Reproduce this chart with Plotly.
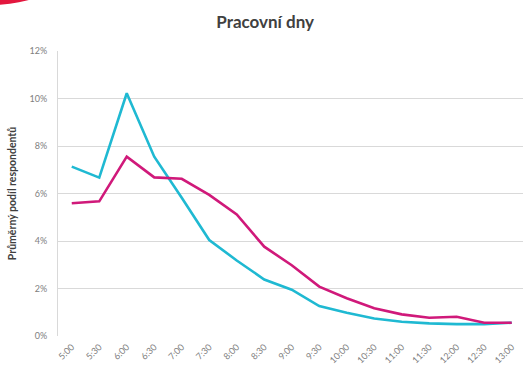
import plotly.graph_objects as go

times = ["5:00", "5:30", "6:00", "6:30", "7:00", "7:30", "8:00", "8:30", "9:00",
         "9:30", "10:00", "10:30", "11:00", "11:30", "12:00", "12:30", "13:00"]
cyan_vals = [7.13, 6.67, 10.22, 7.55, 5.82, 4.04, 3.18, 2.38, 1.95,
             1.26, 0.98, 0.74, 0.60, 0.53, 0.50, 0.50, 0.56]
magenta_vals = [5.59, 5.67, 7.55, 6.68, 6.62, 5.94, 5.12, 3.76, 2.98,
                2.08, 1.59, 1.17, 0.91, 0.77, 0.81, 0.56, 0.56]
y_ticks = [0, 2, 4, 6, 8, 10, 12]
y_labels = ["0%", "2%", "4%", "6%", "8%", "10%", "12%"]

idx = list(range(len(times)))

fig = go.Figure()
fig.add_trace(go.Scatter(x=idx, y=cyan_vals, mode="lines",
                         line=dict(color="#1FB9D2", width=2.6), showlegend=False))
fig.add_trace(go.Scatter(x=idx, y=magenta_vals, mode="lines",
                         line=dict(color="#D0197A", width=2.6), showlegend=False))

fig.update_layout(
    width=523, height=370,
    margin=dict(l=58, r=0, t=51, b=34),
    paper_bgcolor="white", plot_bgcolor="white",
    font=dict(family="Lato, Open Sans, sans-serif", color="#808080"),
    title=dict(text="<b>Pracovní dny</b>", x=0.507, xanchor="center",
               y=1 - 22 / 370, yanchor="middle",
               font=dict(size=17, color="#404040")),
    xaxis=dict(range=[-0.5, 16.41], tickmode="array", tickvals=idx, ticktext=times,
               tickangle=-45, tickfont=dict(size=9, color="#808080"),
               showgrid=False, showline=False, zeroline=False, ticks="",
               ticklabelstandoff=3, automargin=False),
    yaxis=dict(range=[0, 12], tickmode="array", tickvals=y_ticks, ticktext=y_labels,
               tickfont=dict(size=9, color="#808080"),
               showgrid=True, gridcolor="#D9D9D9", gridwidth=1,
               showline=True, linecolor="#D9D9D9", linewidth=1,
               zeroline=False, ticks="", ticklabelstandoff=8, automargin=False,
               title=dict(text="<b>Průměrný podíl respondentů</b>",
                          font=dict(size=10.5, color="#404040"), standoff=10)),
    shapes=[dict(type="circle", xref="paper", yref="paper",
                 x0=-0.258, x1=-0.0344, y0=1.1614, y1=1.2667,
                 fillcolor="#E3173E", line=dict(width=0), layer="above")],
)

fig.write_html("out.html", config={"displayModeBar": False},
               post_script="document.body.style.margin='0';document.body.style.overflow='hidden';")
